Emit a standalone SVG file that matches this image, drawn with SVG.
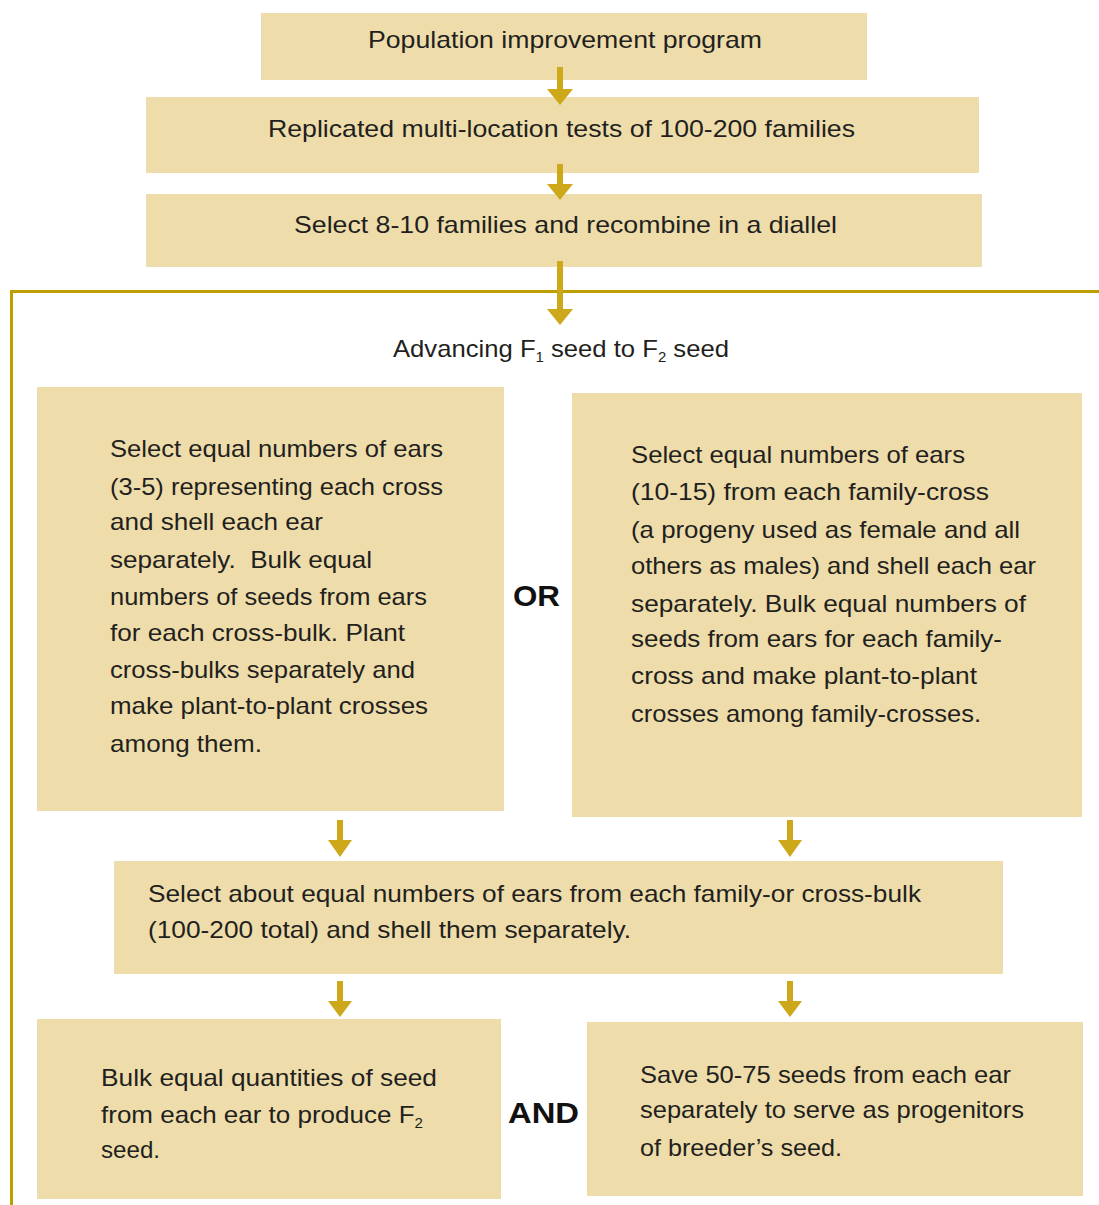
<svg xmlns="http://www.w3.org/2000/svg" width="1099" height="1205" viewBox="0 0 1099 1205">
<defs>
<style>
.box{fill:#EEDDAA;}
.t{font-family:"Liberation Sans",Arial,sans-serif;font-size:24px;fill:#231F20;}
.b{font-family:"Liberation Sans",Arial,sans-serif;font-size:30px;font-weight:bold;fill:#111111;}
.arr{fill:#CCA81A;}
.frame{fill:none;stroke:#BF9F00;stroke-width:3;}
.sub{font-size:14px;}
</style>
</defs>
<rect width="1099" height="1205" fill="#FFFFFF"/>
<g id="frame"><path class="frame" d="M11.5,1205 V291.5 H1099"/></g>
<g id="n1"><rect class="box" x="261" y="13" width="606" height="67"/>
<text class="t" x="368" y="48" textLength="394" lengthAdjust="spacingAndGlyphs">Population improvement program</text></g>
<g id="n2"><rect class="box" x="146" y="97" width="833" height="76"/>
<text class="t" x="268" y="137" textLength="587" lengthAdjust="spacingAndGlyphs">Replicated multi-location tests of 100-200 families</text></g>
<g id="n3"><rect class="box" x="146" y="194" width="836" height="73"/>
<text class="t" x="294" y="233" textLength="543" lengthAdjust="spacingAndGlyphs">Select 8-10 families and recombine in a diallel</text></g>
<g id="label"><text class="t" x="393" y="357" textLength="336" lengthAdjust="spacingAndGlyphs">Advancing F<tspan class="sub" dy="5">1</tspan><tspan dy="-5"> seed to F</tspan><tspan class="sub" dy="5">2</tspan><tspan dy="-5"> seed</tspan></text></g>
<g id="n4"><rect class="box" x="37" y="387" width="467" height="424"/>
<text class="t" x="110" y="457" textLength="333" lengthAdjust="spacingAndGlyphs">Select equal numbers of ears</text>
<text class="t" x="110" y="495" textLength="333" lengthAdjust="spacingAndGlyphs">(3-5) representing each cross</text>
<text class="t" x="110" y="530" textLength="213" lengthAdjust="spacingAndGlyphs">and shell each ear</text>
<text class="t" x="110" y="568" textLength="262" lengthAdjust="spacingAndGlyphs" xml:space="preserve">separately.  Bulk equal</text>
<text class="t" x="110" y="605" textLength="317" lengthAdjust="spacingAndGlyphs">numbers of seeds from ears</text>
<text class="t" x="110" y="641" textLength="295" lengthAdjust="spacingAndGlyphs">for each cross-bulk. Plant</text>
<text class="t" x="110" y="678" textLength="305" lengthAdjust="spacingAndGlyphs">cross-bulks separately and</text>
<text class="t" x="110" y="714" textLength="318" lengthAdjust="spacingAndGlyphs">make plant-to-plant crosses</text>
<text class="t" x="110" y="752" textLength="152" lengthAdjust="spacingAndGlyphs">among them.</text></g>
<g id="or"><text class="b" x="513" y="606" textLength="47" lengthAdjust="spacingAndGlyphs">OR</text></g>
<g id="n5"><rect class="box" x="572" y="393" width="510" height="424"/>
<text class="t" x="631" y="463" textLength="334" lengthAdjust="spacingAndGlyphs">Select equal numbers of ears</text>
<text class="t" x="631" y="500" textLength="358" lengthAdjust="spacingAndGlyphs">(10-15) from each family-cross</text>
<text class="t" x="631" y="538" textLength="389" lengthAdjust="spacingAndGlyphs">(a progeny used as female and all</text>
<text class="t" x="631" y="574" textLength="405" lengthAdjust="spacingAndGlyphs">others as males) and shell each ear</text>
<text class="t" x="631" y="612" textLength="395" lengthAdjust="spacingAndGlyphs">separately. Bulk equal numbers of</text>
<text class="t" x="631" y="647" textLength="371" lengthAdjust="spacingAndGlyphs">seeds from ears for each family-</text>
<text class="t" x="631" y="684" textLength="346" lengthAdjust="spacingAndGlyphs">cross and make plant-to-plant</text>
<text class="t" x="631" y="722" textLength="350" lengthAdjust="spacingAndGlyphs">crosses among family-crosses.</text></g>
<g id="n6"><rect class="box" x="114" y="861" width="889" height="113"/>
<text class="t" x="148" y="902" textLength="773" lengthAdjust="spacingAndGlyphs">Select about equal numbers of ears from each family-or cross-bulk</text>
<text class="t" x="148" y="938" textLength="483" lengthAdjust="spacingAndGlyphs">(100-200 total) and shell them separately.</text></g>
<g id="n7"><rect class="box" x="37" y="1019" width="464" height="180"/>
<text class="t" x="101" y="1086" textLength="336" lengthAdjust="spacingAndGlyphs">Bulk equal quantities of seed</text>
<text class="t" x="101" y="1123" textLength="322" lengthAdjust="spacingAndGlyphs">from each ear to produce F<tspan class="sub" dy="5">2</tspan></text>
<text class="t" x="101" y="1158" textLength="59" lengthAdjust="spacingAndGlyphs">seed.</text></g>
<g id="and"><text class="b" x="508" y="1123" textLength="71" lengthAdjust="spacingAndGlyphs">AND</text></g>
<g id="n8"><rect class="box" x="587" y="1022" width="496" height="174"/>
<text class="t" x="640" y="1083" textLength="371" lengthAdjust="spacingAndGlyphs">Save 50-75 seeds from each ear</text>
<text class="t" x="640" y="1118" textLength="384" lengthAdjust="spacingAndGlyphs">separately to serve as progenitors</text>
<text class="t" x="640" y="1156" textLength="202" lengthAdjust="spacingAndGlyphs">of breeder’s seed.</text></g>
<g id="connectors">
<path class="arr" d="M557,67 H563 V89 H573 L560,105 L547,89 H557 Z"/>
<path class="arr" d="M557,164 H563 V184 H573 L560,200 L547,184 H557 Z"/>
<path class="arr" d="M557,261 H563 V309 H573 L560,325 L547,309 H557 Z"/>
<path class="arr" d="M337,820 H343 V840 H352 L340,857 L328,840 H337 Z"/>
<path class="arr" d="M787,820 H793 V840 H802 L790,857 L778,840 H787 Z"/>
<path class="arr" d="M337,981 H343 V1001 H352 L340,1017 L328,1001 H337 Z"/>
<path class="arr" d="M787,981 H793 V1001 H802 L790,1017 L778,1001 H787 Z"/>
</g>
</svg>
